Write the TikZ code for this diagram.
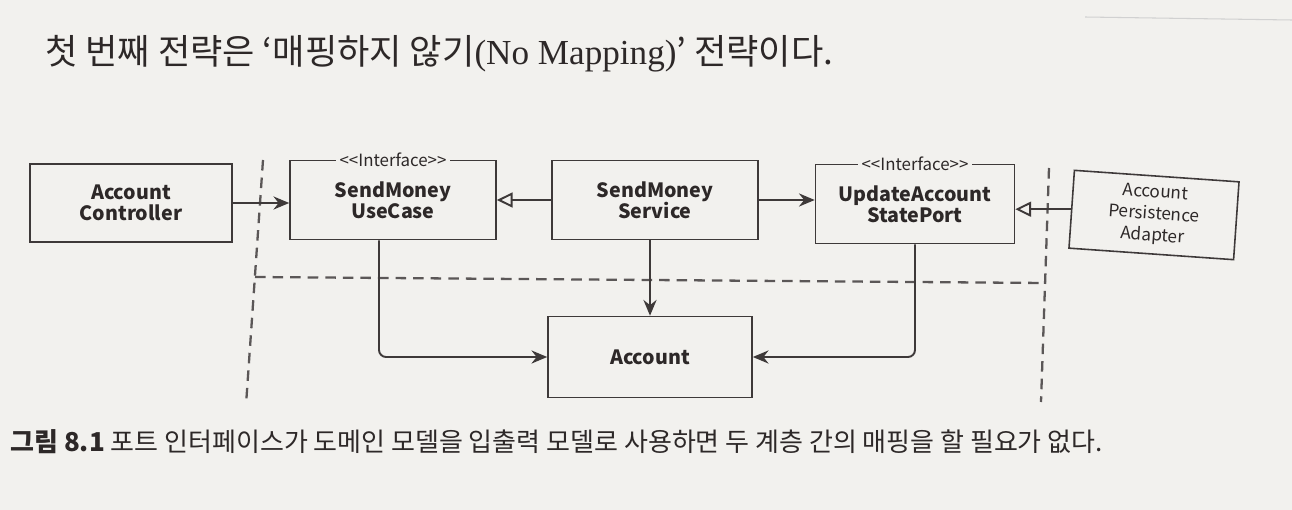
\documentclass[tikz,border=0pt]{standalone}
\usepackage{fontspec}
\usepackage{tikz}
\usetikzlibrary{arrows.meta}
\usetikzlibrary{positioning}
\newfontfamily\krfont{Noto Sans CJK KR}
\newfontfamily\serfont{Liberation Serif}
\newcommand{\pxu}{0.02cm}
\definecolor{paper}{RGB}{242,241,238}
\definecolor{ink}{RGB}{62,57,57}
\definecolor{txt}{RGB}{45,40,40}
\tikzset{box/.style = {draw = ink, line width = 0.9pt, inner sep = 0, align = center,
    text = txt, font = \krfont\bfseries\fontsize{11.2}{12.2}\selectfont}}
\tikzset{stereo/.style = {fill = paper, inner sep = 2pt, text = txt,
    font = \krfont\fontsize{9.6}{10}\selectfont}}
\tikzset{dep/.style = {draw = ink, line width = 1.1pt, -{Stealth[length = 9pt, width = 7.5pt, inset = 3pt]}}}
\tikzset{impl/.style = {draw = ink, line width = 1.1pt, -{Triangle[open, length = 9pt, width = 8.5pt]}}}
\tikzset{border/.style = {draw = ink!85, line width = 1.3pt, dash pattern = on 6pt off 4pt}}

\begin{document}
\begin{tikzpicture}[x = 0.02cm, y = -0.02cm]
    \fill[paper] (0, 0) rectangle (1292, 510);
    \useasboundingbox (0, 0) rectangle (1292, 510);
    \draw[black!18, line width = 0.6pt] (1085, 17) -- (1292, 20);
    % text
    \node[anchor = base west, text = txt, inner sep = 0, font = \krfont\fontsize{20}{21}\selectfont]
      (title) at (45, 65) {첫 번째 전략은 ‘매핑하지 않기{\serfont(No Mapping)}’ 전략이다.};
    \node[anchor = base west, text = txt, inner sep = 0, font = \krfont\fontsize{14.8}{15}\selectfont]
      (caption) at (10, 451) {{\bfseries 그림 8.1} 포트 인터페이스가 도메인 모델을 입출력 모델로 사용하면 두 계층 간의 매핑을 할 필요가 없다.};
    % boxes
    \node[box, minimum width = 202*\pxu, minimum height = 78*\pxu] (ctrl) at (131, 203) {Account\\Controller};
    \node[box, minimum width = 206*\pxu, minimum height = 79*\pxu] (usecase) at (393, 200) {SendMoney\\UseCase};
    \node[box, minimum width = 206*\pxu, minimum height = 79*\pxu] (service) at (655, 200) {SendMoney\\Service};
    \node[box, minimum width = 199*\pxu, minimum height = 79*\pxu] (port) at (915, 204) {UpdateAccount\\StatePort};
    \node[box, minimum width = 165*\pxu, minimum height = 78*\pxu, rotate = -4,
      font = \krfont\fontsize{9.8}{12.4}\selectfont] (adapter) at (1154, 215) {Account\\Persistence\\Adapter};
    \node[box, minimum width = 204*\pxu, minimum height = 81*\pxu] (account) at (650, 357) {Account};
    \node[stereo] (usecasetag) at (usecase.north) {<{}<Interface>{}>};
    \node[stereo] (porttag) at (port.north) {<{}<Interface>{}>};
    % layer borders
    \coordinate (lt) at (263, 160);
    \coordinate (lb) at (246, 405);
    \coordinate (lm) at (255, 277);
    \coordinate (rt) at (1049, 168);
    \coordinate (rb) at (1041, 402);
    \coordinate (rm) at (1046, 283);
    \draw[border] (lt) -- (lb);
    \draw[border] (rt) -- (rb);
    \draw[border] (lm) -- (rm);
    % connectors
    \draw[dep] (ctrl.east) -- (ctrl.east -| usecase.west);
    \draw[impl] (service.west) -- (service.west -| usecase.east);
    \draw[dep] (service.east) -- (service.east -| port.west);
    \draw[impl] (adapter.west) -- (adapter.west -| port.east);
    \draw[dep] (service.south -| account.north) -- (account.north);
    \draw[dep, rounded corners = 4] (usecase.south) ++(-14, 0) |- (account.west);
    \draw[dep, rounded corners = 4] (port.south) |- (account.east);
\end{tikzpicture}
\end{document}
